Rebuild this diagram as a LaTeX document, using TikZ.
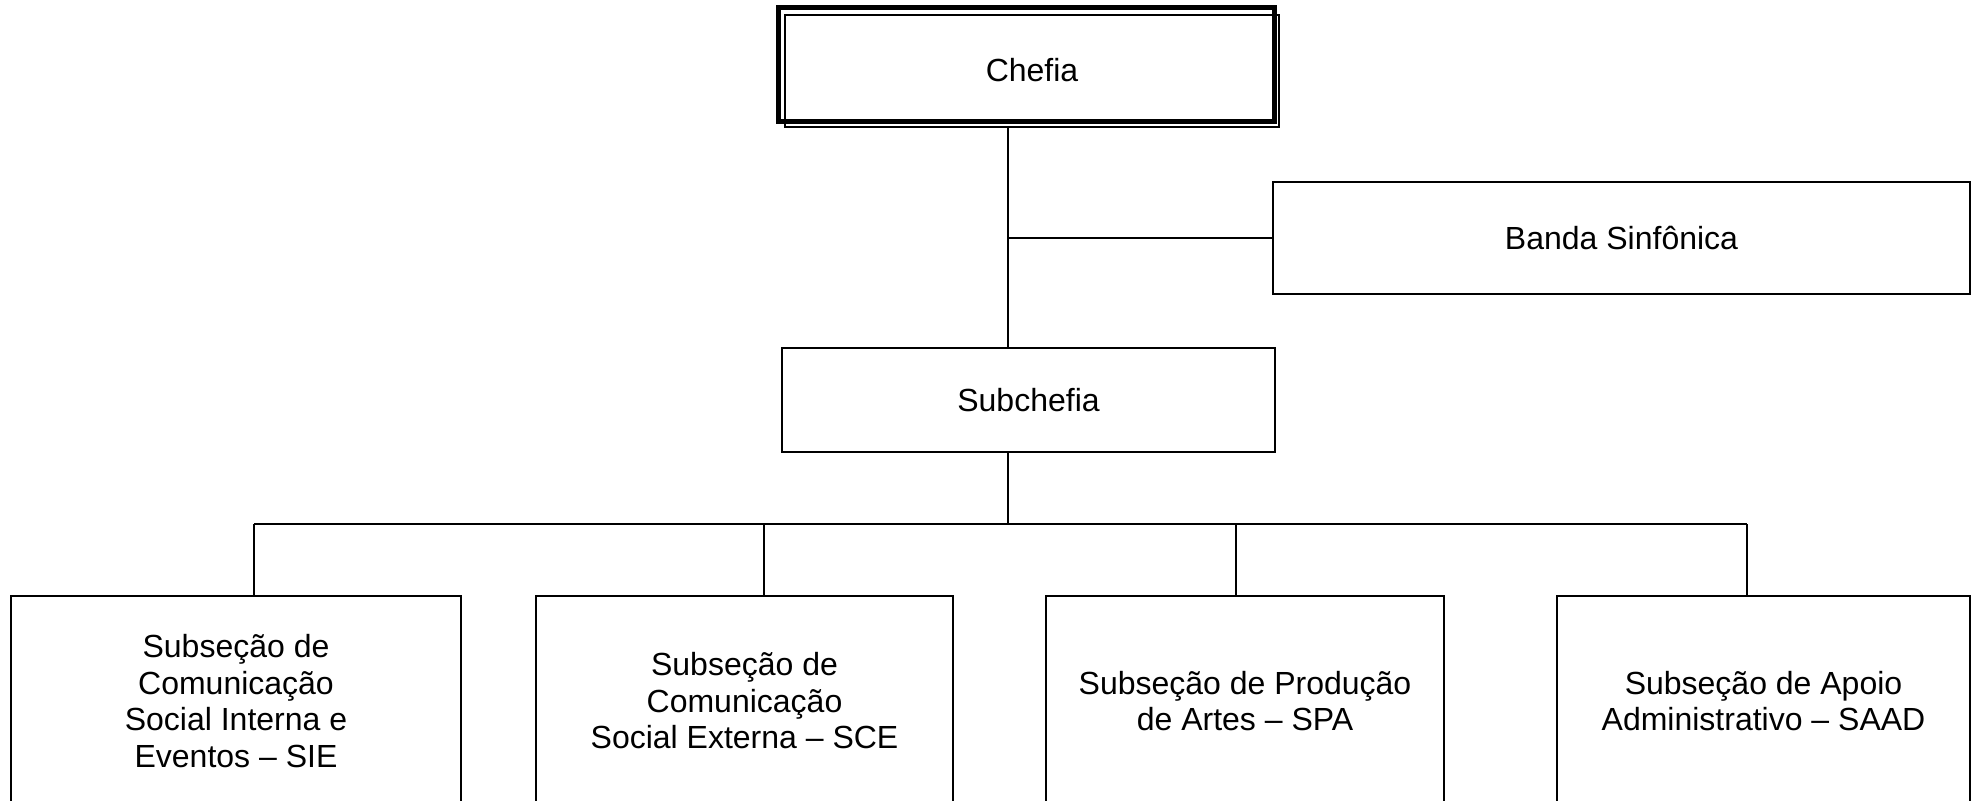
\documentclass[tikz,border=0pt]{standalone}
\usepackage{fontspec}
\setmainfont{Liberation Sans}
\begin{document}
\begin{tikzpicture}[x=0.5pt,y=-0.5pt,
  box/.style={draw,line width=1pt,rectangle,inner sep=0pt,align=center,
    font=\fontsize{16pt}{18.25pt}\selectfont},
  conn/.style={line width=1pt}]
\useasboundingbox (0,0) rectangle (1979,800);
\clip (0,0) rectangle (1979,800);
\fill[white] (0,0) rectangle (1979,800);
% top
\node[box,minimum width=247pt,minimum height=56pt] (chefia) at (1032,71) {\raisebox{1.5pt}{Chefia}};
\draw[line width=2.5pt] ([shift={(-6,-7)}]chefia.north west) rectangle ([shift={(-6,-7)}]chefia.south east);
\node[box,minimum width=348.5pt,minimum height=56pt] (banda) at (1621.5,238) {Banda Sinfônica};
\node[box,minimum width=246.5pt,minimum height=52pt] (sub) at (1028.5,400) {Subchefia};
% bottom row
\node[box,minimum width=225pt,minimum height=105pt] (s1) at (236,701) {Subseção de\\Comunicação\\Social Interna e\\Eventos – SIE};
\node[box,minimum width=208.5pt,minimum height=105pt] (s2) at (744.5,701) {Subseção de\\Comunicação\\Social Externa – SCE};
\node[box,minimum width=199pt,minimum height=105pt] (s3) at (1245,701) {Subseção de Produção\\de Artes – SPA};
\node[box,minimum width=206.5pt,minimum height=105pt] (s4) at (1763.5,701) {Subseção de Apoio\\Administrativo – SAAD};
% connectors
\coordinate (trunk) at (1008,0);
\coordinate (d1) at (254,524);
\coordinate (d2) at (764,524);
\coordinate (d3) at (1236,524);
\coordinate (d4) at (1747,524);
\draw[conn] (chefia.south -| trunk) -- (sub.north -| trunk);
\draw[conn] (banda.west) -- (banda.west -| trunk);
\draw[conn] (sub.south -| trunk) -- (d1 -| trunk);
\draw[conn] (d1) -- (d4);
\draw[conn] (d1) -- (d1 |- s1.north);
\draw[conn] (d2) -- (d2 |- s2.north);
\draw[conn] (d3) -- (d3 |- s3.north);
\draw[conn] (d4) -- (d4 |- s4.north);
\end{tikzpicture}
\end{document}
